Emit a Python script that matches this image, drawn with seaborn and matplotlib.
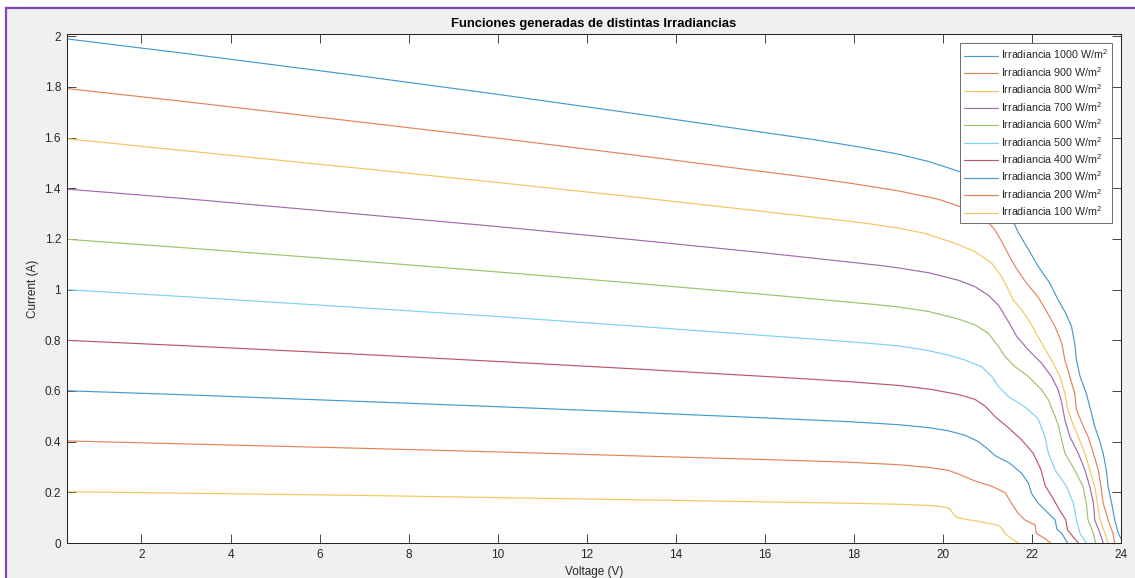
import numpy as np
import pandas as pd
import matplotlib
matplotlib.use("Agg")
import matplotlib.pyplot as plt
from matplotlib.patches import Rectangle
from matplotlib.ticker import FuncFormatter
from matplotlib.colors import to_rgb
import seaborn as sns

# Irradiance levels (W/m^2) and the I-V curve read for each one
irradiances = [1000, 900, 800, 700, 600, 500, 400, 300, 200, 100]

v_1000 = [0.32, 3.0, 6.9, 10.0, 13.0, 16.0, 17.0, 18.0, 19.0, 19.7, 20.39, 21.0, 21.56, 21.69,
          21.92, 22.14, 22.4, 22.59, 22.75, 22.89, 22.96, 23.0, 23.08, 23.22, 23.34, 23.41, 23.49,
          23.6, 23.67, 23.71, 23.79, 23.86, 23.94, 24.05]
i_1000 = [1.99, 1.932, 1.844, 1.771, 1.697, 1.62, 1.595, 1.567, 1.535, 1.505, 1.465, 1.40, 1.279,
          1.226, 1.159, 1.092, 1.026, 0.959, 0.91, 0.854, 0.788, 0.722, 0.657, 0.591, 0.51, 0.459,
          0.42, 0.354, 0.288, 0.222, 0.157, 0.091, 0.038, 0.0]

v_900 = [0.32, 3.0, 6.9, 10.0, 13.0, 16.0, 17.0, 18.0, 19.0, 19.9, 20.38, 20.98, 21.17, 21.32,
         21.47, 21.62, 21.84, 22.14, 22.31, 22.52, 22.67, 22.74, 22.85, 22.96, 23.0, 23.13, 23.26,
         23.38, 23.49, 23.55, 23.6, 23.71, 23.82, 23.86]
i_900 = [1.794, 1.742, 1.662, 1.598, 1.533, 1.465, 1.443, 1.418, 1.39, 1.357, 1.328, 1.275, 1.235,
         1.19, 1.14, 1.092, 1.035, 0.97, 0.92, 0.854, 0.788, 0.722, 0.657, 0.591, 0.525, 0.47,
         0.42, 0.354, 0.288, 0.222, 0.157, 0.091, 0.038, 0.0]

v_800 = [0.32, 3.0, 6.9, 10.0, 13.0, 16.0, 17.0, 18.0, 18.56, 19.0, 19.6, 20.12, 20.35, 20.72,
         21.1, 21.32, 21.47, 21.58, 21.77, 21.96, 22.22, 22.44, 22.63, 22.74, 22.8, 22.92, 23.04,
         23.19, 23.3, 23.41, 23.47, 23.53, 23.64, 23.71]
i_800 = [1.596, 1.548, 1.479, 1.423, 1.367, 1.308, 1.288, 1.268, 1.255, 1.243, 1.222, 1.192,
         1.178, 1.15, 1.104, 1.051, 0.999, 0.959, 0.92, 0.87, 0.788, 0.722, 0.657, 0.591, 0.53,
         0.47, 0.42, 0.354, 0.288, 0.222, 0.157, 0.091, 0.038, 0.0]

v_700 = [0.32, 3.0, 6.9, 10.0, 13.0, 16.0, 17.0, 18.0, 18.56, 19.0, 19.7, 20.35, 20.72, 21.02,
         21.25, 21.45, 21.66, 21.92, 22.22, 22.44, 22.59, 22.67, 22.74, 22.85, 23.04, 23.19, 23.3,
         23.38, 23.41, 23.53, 23.6]
i_700 = [1.397, 1.359, 1.298, 1.249, 1.198, 1.145, 1.126, 1.107, 1.096, 1.086, 1.066, 1.037,
         1.012, 0.978, 0.938, 0.88, 0.815, 0.762, 0.709, 0.657, 0.604, 0.552, 0.486, 0.42, 0.354,
         0.288, 0.222, 0.157, 0.091, 0.038, 0.0]

v_600 = [0.32, 3.0, 6.9, 10.0, 13.0, 16.0, 17.0, 18.0, 18.56, 19.0, 19.7, 20.35, 20.72, 21.02,
         21.25, 21.4, 21.62, 21.92, 22.22, 22.37, 22.52, 22.6, 22.65, 22.74, 22.96, 23.15, 23.22,
         23.26, 23.38, 23.43]
i_600 = [1.199, 1.165, 1.113, 1.07, 1.0265, 0.981, 0.965, 0.949, 0.94, 0.932, 0.913, 0.884,
         0.861, 0.828, 0.775, 0.735, 0.696, 0.657, 0.604, 0.565, 0.499, 0.46, 0.42, 0.354, 0.288,
         0.222, 0.157, 0.091, 0.038, 0.0]

v_500 = [0.32, 3.0, 6.9, 10.0, 13.0, 16.0, 17.0, 18.0, 18.56, 19.0, 19.6, 20.12, 20.5, 20.87,
         21.1, 21.25, 21.47, 21.84, 22.14, 22.29, 22.37, 22.52, 22.78, 22.93, 23.0, 23.08, 23.22]
i_500 = [1.0, 0.972, 0.929, 0.894, 0.857, 0.819, 0.806, 0.793, 0.785, 0.778, 0.762, 0.742, 0.722,
         0.696, 0.657, 0.617, 0.578, 0.538, 0.49, 0.42, 0.354, 0.288, 0.222, 0.157, 0.091, 0.038,
         0.0]

v_400 = [0.32, 3.0, 6.9, 10.0, 13.0, 16.0, 17.0, 17.88, 19.0, 19.75, 20.35, 20.72, 20.95, 21.17,
         21.47, 21.77, 22.03, 22.2, 22.3, 22.45, 22.62, 22.76, 22.8, 22.89, 23.04]
i_400 = [0.80, 0.7785, 0.745, 0.7165, 0.688, 0.6575, 0.647, 0.637, 0.622, 0.606, 0.586, 0.567,
         0.54, 0.499, 0.455, 0.407, 0.354, 0.29, 0.225, 0.183, 0.13, 0.091, 0.051, 0.032, 0.0]

v_300 = [0.32, 3.0, 6.9, 10.0, 13.0, 16.0, 17.0, 17.88, 19.0, 19.7, 20.12, 20.5, 20.8, 21.0,
         21.17, 21.5, 21.77, 21.92, 21.99, 22.14, 22.37, 22.52, 22.56, 22.67, 22.8]
i_300 = [0.601, 0.585, 0.559, 0.538, 0.5165, 0.4937, 0.486, 0.479, 0.467, 0.455, 0.443, 0.425,
         0.40, 0.372, 0.345, 0.315, 0.275, 0.236, 0.196, 0.157, 0.117, 0.091, 0.055, 0.038, 0.0]

v_200 = [0.32, 3.0, 6.9, 10.0, 13.0, 16.0, 17.0, 17.88, 19.0, 19.7, 20.12, 20.35, 20.72, 21.1,
         21.4, 21.54, 21.69, 21.84, 22.07, 22.1, 22.29, 22.42]
i_200 = [0.403, 0.391, 0.374, 0.3595, 0.3444, 0.3294, 0.324, 0.319, 0.309, 0.298, 0.287, 0.272,
         0.245, 0.224, 0.198, 0.157, 0.117, 0.091, 0.071, 0.038, 0.018, 0.0]

v_100 = [0.32, 3.0, 6.9, 10.0, 13.0, 16.0, 17.0, 17.88, 19.0, 19.7, 20.05, 20.15, 20.22, 20.3,
         20.5, 20.8, 21.17, 21.28, 21.35, 21.4, 21.54, 21.69]
i_100 = [0.2025, 0.1966, 0.188, 0.179, 0.171, 0.1623, 0.1597, 0.157, 0.153, 0.148, 0.142, 0.135,
         0.118, 0.102, 0.094, 0.085, 0.073, 0.066, 0.05, 0.036, 0.018, 0.0]

voltages = [v_1000, v_900, v_800, v_700, v_600, v_500, v_400, v_300, v_200, v_100]
currents = [i_1000, i_900, i_800, i_700, i_600, i_500, i_400, i_300, i_200, i_100]

x_ticks = list(range(2, 25, 2))
y_ticks = [0, 0.2, 0.4, 0.6, 0.8, 1.0, 1.2, 1.4, 1.6, 1.8, 2.0]

labels = [f"Irradiancia {g} W/m$^2$" for g in irradiances]

# default line colour order, cycled over the ten curves, drawn slightly washed out
line_colors = ["#0072BD", "#D95319", "#EDB120", "#7E2F8E", "#77AC30", "#4DBEEE", "#A2142F"]


def soften(c, amount=0.28):
    r, g, b = to_rgb(c)
    return (r + (1 - r) * amount, g + (1 - g) * amount, b + (1 - b) * amount)


palette = [soften(line_colors[k % len(line_colors)]) for k in range(len(irradiances))]

frames = [pd.DataFrame({"V": v, "I": i, "serie": lab})
          for v, i, lab in zip(voltages, currents, labels)]
df = pd.concat(frames, ignore_index=True)

sns.set_style("ticks")
plt.rcParams["font.family"] = ["Liberation Sans", "DejaVu Sans"]
plt.rcParams["mathtext.default"] = "regular"

W, H = 1135, 578
fig = plt.figure(figsize=(W / 100, H / 100), dpi=100, facecolor="white")

# window panel with its purple frame
fig.add_artist(Rectangle((5.5 / W, -0.1), 1.2, (H - 8.5) / H + 0.1, transform=fig.transFigure,
                         facecolor="#f0f0f0", edgecolor="#7e45b3", linewidth=1.6, zorder=-5))

left, right, top, bottom = 66.7, 1121.0, 34.3, 543.0
ax = fig.add_axes([left / W, 1 - bottom / H, (right - left) / W, (bottom - top) / H])
ax.set_facecolor("white")

sns.lineplot(data=df, x="V", y="I", hue="serie", hue_order=labels, palette=palette,
             sort=False, estimator=None, linewidth=0.85, legend=False, ax=ax)

ax.set_xlim(0.32, 24)
ax.set_ylim(0, 2.008)
ax.set_xticks(x_ticks)
ax.set_yticks(y_ticks)
ax.yaxis.set_major_formatter(FuncFormatter(lambda v, p: f"{v:g}"))
ax.xaxis.set_major_formatter(FuncFormatter(lambda v, p: f"{v:g}"))

axis_color = "#262626"
for s in ax.spines.values():
    s.set_visible(True)
    s.set_color(axis_color)
    s.set_linewidth(0.75)
ax.tick_params(axis="both", direction="in", length=6.5, width=0.6, top=True, right=True,
               color=axis_color, labelcolor=axis_color, labelsize=8.5)
ax.tick_params(axis="x", pad=4.5)
ax.tick_params(axis="y", pad=4.1)

ax.set_title("Funciones generadas de distintas Irradiancias", fontsize=9.4,
             fontweight="bold", color="black", pad=5.4)
ax.set_xlabel("Voltage (V)", fontsize=8.5, color=axis_color)
ax.set_ylabel("Current (A)", fontsize=8.5, color=axis_color)
ax.xaxis.set_label_coords(0.5, (bottom - 572) / (bottom - top))
ax.xaxis.label.set_va("center")
ax.yaxis.set_label_coords((33 - left) / (right - left), 0.5)
ax.yaxis.label.set_va("center")

leg = ax.legend(ax.lines, labels, loc="upper right",
                bbox_to_anchor=((1112.3 - left) / (right - left), (bottom - 43.3) / (bottom - top)),
                fontsize=7.7, frameon=True, fancybox=False, framealpha=1, borderaxespad=0,
                borderpad=0.4, handlelength=3.2, handletextpad=0.26, labelspacing=0.34)
leg.get_frame().set_edgecolor("#555555")
leg.get_frame().set_linewidth(0.6)

fig.savefig("out.png", dpi=100, facecolor=fig.get_facecolor())
